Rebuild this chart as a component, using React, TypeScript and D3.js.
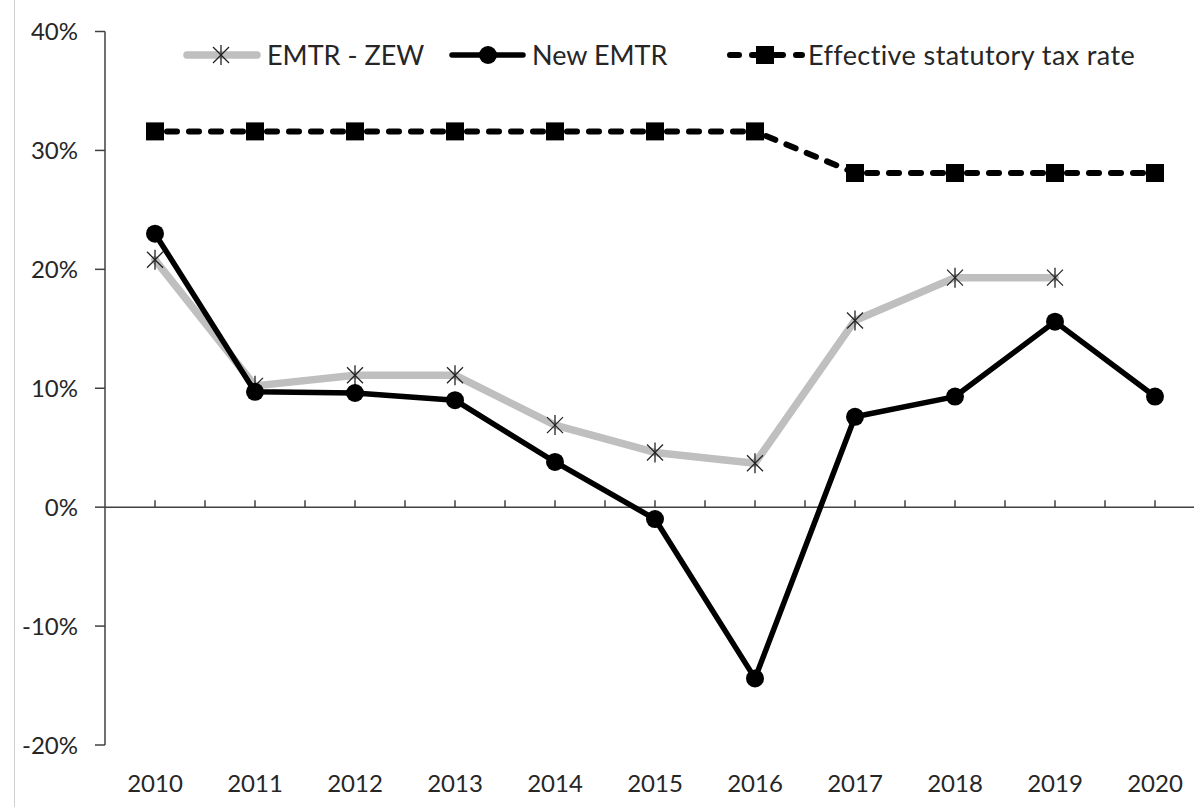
import * as d3 from "d3";

const W = 1194;
const H = 807;

const years = ["2010", "2011", "2012", "2013", "2014", "2015", "2016", "2017", "2018", "2019", "2020"];
const emtrZew: (number | null)[] = [20.8, 10.2, 11.1, 11.1, 6.9, 4.6, 3.7, 15.7, 19.3, 19.3, null];
const newEmtr = [23.0, 9.7, 9.6, 9.0, 3.8, -1.0, -14.4, 7.6, 9.3, 15.6, 9.3];
const statutory = [31.6, 31.6, 31.6, 31.6, 31.6, 31.6, 31.6, 28.1, 28.1, 28.1, 28.1];
const yTicks = [-20, -10, 0, 10, 20, 30, 40];

const FONT = "Lato, 'Open Sans', sans-serif";
const TEXT = "#262626";
const AXIS = "#404040";
const GREY = "#bfbfbf";

const Star = ({ x, y }: { x: number; y: number }) => (
  <g stroke="#222" strokeWidth={1.3}>
    <line x1={x} y1={y - 10} x2={x} y2={y + 10} />
    <line x1={x - 8} y1={y - 8} x2={x + 8} y2={y + 8} />
    <line x1={x - 8} y1={y + 8} x2={x + 8} y2={y - 8} />
  </g>
);

const Square = ({ x, y }: { x: number; y: number }) => (
  <rect x={x - 9} y={y - 9} width={18} height={18} fill="#000" />
);

export default function App() {
  const x = d3.scaleBand<string>().domain(years).range([105, 1205]);
  const cx = (yr: string) => (x(yr) ?? 0) + x.bandwidth() / 2;
  const y = d3.scaleLinear().domain([-20, 40]).range([745, 31.5]);
  const y0 = y(0);

  const zewPts = years
    .map((yr, i) => ({ yr, v: emtrZew[i] }))
    .filter((d) => d.v !== null) as { yr: string; v: number }[];
  const newPts = years.map((yr, i) => ({ yr, v: newEmtr[i] }));
  const statPts = years.map((yr, i) => ({ yr, v: statutory[i] }));

  const line = d3
    .line<{ yr: string; v: number }>()
    .x((d) => cx(d.yr))
    .y((d) => y(d.v));

  // small ticks on the category axis, every half category
  const xTicks: number[] = [];
  years.forEach((yr) => {
    xTicks.push(cx(yr));
    xTicks.push((x(yr) ?? 0) + x.bandwidth());
  });

  const legendY = 55;

  return (
    <svg
      width={W}
      height={H}
      style={{ position: "absolute", left: 0, top: 0, background: "#fff" }}
      fontFamily={FONT}
    >
      <line x1={14.5} x2={14.5} y1={0} y2={H} stroke="#d0d0d0" strokeWidth={1} />

      {/* y axis */}
      <line x1={105} x2={105} y1={y(40)} y2={y(-20)} stroke={AXIS} strokeWidth={1.5} />
      {yTicks.map((t) => (
        <g key={t}>
          <line x1={95} x2={105} y1={y(t)} y2={y(t)} stroke={AXIS} strokeWidth={1.5} />
          <text x={78} y={y(t) + 8.5} textAnchor="end" fontSize={24} fill={TEXT}>
            {t}%
          </text>
        </g>
      ))}

      {/* x axis at 0% */}
      <line x1={105} x2={1205} y1={y0} y2={y0} stroke={AXIS} strokeWidth={1.5} />
      {xTicks.map((t, i) => (
        <line key={i} x1={t} x2={t} y1={y0} y2={y0 - 7} stroke={AXIS} strokeWidth={1.5} />
      ))}
      {years.map((yr) => (
        <text key={yr} x={cx(yr)} y={792} textAnchor="middle" fontSize={24} fill={TEXT}>
          {yr}
        </text>
      ))}

      {/* EMTR - ZEW */}
      <path
        d={line(zewPts) ?? ""}
        fill="none"
        stroke={GREY}
        strokeWidth={7.5}
        strokeLinejoin="round"
        strokeLinecap="round"
      />
      {zewPts.map((d) => (
        <Star key={d.yr} x={cx(d.yr)} y={y(d.v)} />
      ))}

      {/* New EMTR */}
      <path
        d={line(newPts) ?? ""}
        fill="none"
        stroke="#000"
        strokeWidth={5.5}
        strokeLinejoin="round"
      />
      {newPts.map((d) => (
        <circle key={d.yr} cx={cx(d.yr)} cy={y(d.v)} r={9} fill="#000" />
      ))}

      {/* Effective statutory tax rate: dash pattern restarts on each segment */}
      {statPts.slice(1).map((d, i) => (
        <path
          key={d.yr}
          d={line([statPts[i], d]) ?? ""}
          fill="none"
          stroke="#000"
          strokeWidth={6}
          strokeDasharray="10,12"
          strokeDashoffset={-12}
          strokeLinecap="round"
        />
      ))}
      {statPts.map((d) => (
        <Square key={d.yr} x={cx(d.yr)} y={y(d.v)} />
      ))}

      {/* legend */}
      <g>
        <line x1={187} x2={257} y1={legendY} y2={legendY} stroke={GREY} strokeWidth={7.5} strokeLinecap="round" />
        <Star x={221} y={legendY} />
        <text x={267} y={legendY + 9.5} fontSize={27} fill={TEXT}>
          EMTR - ZEW
        </text>

        <line x1={452} x2={523} y1={legendY} y2={legendY} stroke="#000" strokeWidth={5.5} strokeLinecap="round" />
        <circle cx={488} cy={legendY} r={9} fill="#000" />
        <text x={532} y={legendY + 9.5} fontSize={27} fill={TEXT}>
          New EMTR
        </text>

        <line
          x1={730}
          x2={802}
          y1={legendY}
          y2={legendY}
          stroke="#000"
          strokeWidth={6}
          strokeDasharray="9,13"
          strokeLinecap="round"
        />
        <line x1={752} x2={778} y1={legendY} y2={legendY} stroke="#000" strokeWidth={6} />
        <Square x={765} y={legendY} />
        <text x={808} y={legendY + 9.5} fontSize={27} fill={TEXT} letterSpacing={0.4}>
          Effective statutory tax rate
        </text>
      </g>
    </svg>
  );
}
